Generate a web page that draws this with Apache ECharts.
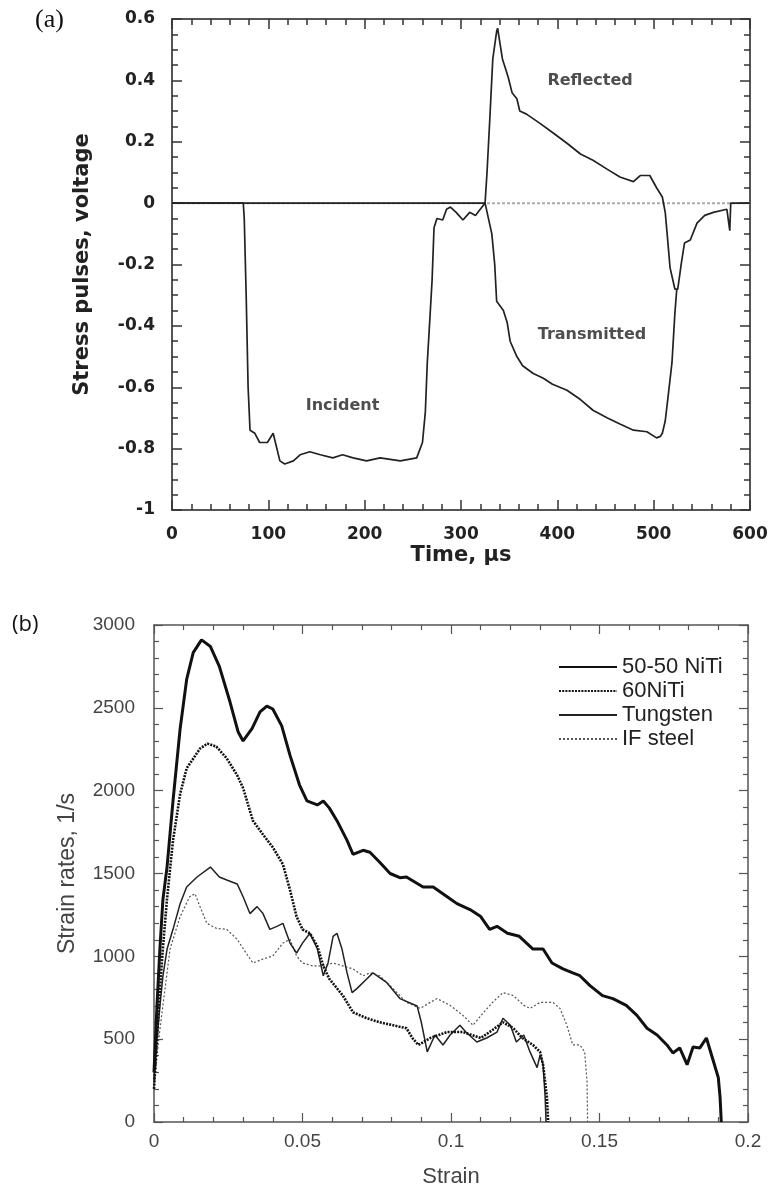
<!DOCTYPE html>
<html>
<head>
<meta charset="utf-8">
<script src="https://cdn.jsdelivr.net/npm/echarts@6/dist/echarts.min.js"></script>
<style>
html,body{margin:0;padding:0;background:#fff;}
#chart{width:773px;height:1189px;}
</style>
</head>
<body>
<div id="chart"></div>
<script>
// ---------- Panel (a): stress pulses ----------
var timeIncRef = [0,74,75,77,79,81,86,91,99,105,112,117,126,133,143,154,167,177,188,202,216,237,254,260,263,265,268,270,272,275,281,285,289,295,302,309,315,320,325,327,330,333,337,338,343,346,349,353,358,361,368,382,395,410,424,437,452,465,479,486,496,503,509,512,514,517,522,525,529,532,538,545,553,562,576,579,580,597,600];
var voltIncRef = [0,0,-0.05,-0.3,-0.6,-0.74,-0.75,-0.78,-0.78,-0.75,-0.84,-0.85,-0.84,-0.82,-0.81,-0.82,-0.83,-0.82,-0.83,-0.84,-0.83,-0.84,-0.83,-0.78,-0.68,-0.52,-0.36,-0.25,-0.08,-0.05,-0.055,-0.02,-0.013,-0.03,-0.055,-0.03,-0.04,-0.02,0,0.1,0.28,0.47,0.56,0.57,0.47,0.44,0.41,0.36,0.34,0.30,0.29,0.26,0.23,0.195,0.16,0.14,0.11,0.085,0.07,0.09,0.09,0.05,0.02,-0.03,-0.1,-0.21,-0.28,-0.28,-0.19,-0.13,-0.12,-0.065,-0.04,-0.03,-0.02,-0.09,0,0,0];
var timeTrans = [0,325,327,332,335,337,344,348,351,358,364,375,385,395,410,424,437,452,465,479,493,503,507,509,512,515,519,522,524];
var voltTrans = [0,0,0,-0.1,-0.2,-0.32,-0.35,-0.39,-0.45,-0.50,-0.53,-0.555,-0.57,-0.59,-0.61,-0.64,-0.675,-0.70,-0.72,-0.74,-0.745,-0.765,-0.76,-0.75,-0.71,-0.63,-0.52,-0.36,-0.28];
var timeZero = [0,600];
var voltZero = [0,0];
var pulseLabels = ['Reflected','Transmitted','Incident'];
var pulseLabelX = [434,436,177];
var pulseLabelY = [0.40,-0.43,-0.66];

// ---------- Panel (b): strain rates ----------
var seriesNames = ['50-50 NiTi','60NiTi','Tungsten','IF steel'];
var strain5050 = [0,0.001,0.002,0.003,0.0044,0.0064,0.0088,0.011,0.0132,0.016,0.019,0.022,0.0256,0.0283,0.030,0.033,0.0357,0.038,0.040,0.043,0.0458,0.049,0.0515,0.055,0.057,0.059,0.0616,0.065,0.067,0.0704,0.0727,0.076,0.0795,0.0828,0.085,0.0906,0.094,0.0987,0.102,0.1064,0.11,0.113,0.1155,0.119,0.123,0.1276,0.131,0.134,0.1377,0.141,0.1434,0.1468,0.151,0.1545,0.159,0.1626,0.166,0.1694,0.1727,0.1747,0.177,0.1795,0.1815,0.1838,0.186,0.188,0.19,0.1906,0.191];
var rate5050 = [300,700,1050,1342,1540,1938,2374,2672,2833,2910,2870,2750,2535,2356,2300,2374,2475,2510,2493,2391,2213,2034,1938,1914,1938,1896,1819,1700,1616,1640,1628,1568,1500,1475,1479,1419,1419,1360,1318,1282,1240,1163,1181,1139,1121,1044,1044,960,924,900,883,823,763,745,704,644,566,525,465,417,447,346,453,447,507,388,268,149,0];
var strain60 = [0,0.001,0.002,0.003,0.0044,0.0064,0.0088,0.011,0.0155,0.018,0.021,0.0245,0.028,0.030,0.0333,0.0367,0.040,0.0434,0.0458,0.048,0.050,0.0525,0.055,0.057,0.059,0.0636,0.067,0.0717,0.076,0.0805,0.085,0.087,0.089,0.093,0.0987,0.104,0.11,0.113,0.1175,0.121,0.124,0.1276,0.13,0.131,0.1323,0.1327];
var rate60 = [200,500,800,1050,1350,1700,1980,2135,2254,2284,2266,2195,2093,2016,1819,1735,1658,1556,1400,1240,1163,1139,1062,942,865,763,662,626,602,584,566,507,465,507,543,543,507,543,602,566,507,465,423,346,149,0];
var strainW = [0,0.001,0.002,0.003,0.0044,0.0064,0.0088,0.011,0.0145,0.019,0.022,0.0245,0.028,0.030,0.0323,0.0347,0.0367,0.039,0.0414,0.0434,0.0458,0.048,0.050,0.0525,0.055,0.057,0.0586,0.0603,0.0616,0.0633,0.065,0.0667,0.0683,0.0717,0.0737,0.0784,0.0828,0.0886,0.09,0.092,0.0946,0.0973,0.0997,0.103,0.105,0.1087,0.112,0.1155,0.1175,0.12,0.122,0.1245,0.1266,0.129,0.13,0.131,0.1317,0.132];
var rateW = [250,500,700,880,1044,1163,1318,1419,1479,1539,1479,1461,1437,1360,1258,1300,1258,1163,1181,1199,1080,1020,1080,1139,1044,883,960,1121,1139,1044,900,781,805,865,900,841,745,700,602,423,525,465,525,584,543,483,507,543,626,584,483,525,423,328,405,346,149,0];
var strainIF = [0,0.001,0.002,0.003,0.0054,0.0088,0.012,0.0138,0.0155,0.0178,0.021,0.0245,0.028,0.031,0.0333,0.0367,0.040,0.0434,0.0458,0.048,0.050,0.0535,0.057,0.0603,0.0636,0.067,0.0704,0.0727,0.076,0.0795,0.0828,0.085,0.0896,0.093,0.0953,0.0997,0.104,0.1074,0.111,0.114,0.1175,0.121,0.1245,0.1266,0.13,0.1343,0.1367,0.139,0.141,0.1434,0.145,0.1458,0.146];
var rateIF = [200,400,560,704,1044,1240,1360,1378,1300,1199,1169,1163,1103,1020,960,984,1002,1080,1103,1002,960,942,942,960,942,924,883,900,883,823,763,722,686,722,745,704,644,584,662,722,781,763,704,686,722,722,686,584,465,465,423,245,0];

function zip(xs, ys){ return xs.map(function(x,i){ return [x, ys[i]]; }); }

var fontA = 'DejaVu Sans';
var fontB = 'Liberation Sans, Arial, sans-serif';
function plain(v){ return String(v); }

function axisCommon(opts){
  return Object.assign({
    type:'value',
    splitLine:{show:false},
    axisLine:{show:true,onZero:false,lineStyle:{color:'#555',width:2}},
    axisTick:{show:true,inside:true,length:10,lineStyle:{color:'#333',width:1.5}},
    minorTick:{show:true,length:6,lineStyle:{color:'#333',width:1.5}}
  }, opts);
}

var option = {
  animation:false,
  backgroundColor:'#fff',
  grid:[
    {left:172, top:19, width:578, height:491},
    {left:154, top:625, width:594, height:503}
  ],
  xAxis:[
    axisCommon({gridIndex:0,min:0,max:600,interval:100,position:'bottom',
      minorTick:{show:true,splitNumber:5,length:6,lineStyle:{color:'#333',width:1.5}},
      axisLabel:{fontFamily:fontA,fontWeight:'bold',fontSize:17,color:'#222',margin:16,formatter:plain},
      name:'Time, μs',nameLocation:'middle',nameGap:35,
      nameTextStyle:{fontFamily:fontA,fontWeight:'bold',fontSize:21,color:'#222'}}),
    axisCommon({gridIndex:0,min:0,max:600,interval:100,position:'top',
      minorTick:{show:true,splitNumber:5,length:6,lineStyle:{color:'#333',width:1.5}},
      axisLabel:{show:false}}),
    axisCommon({gridIndex:1,min:0,max:0.2,interval:0.05,position:'bottom',
      axisLine:{show:true,onZero:false,lineStyle:{color:'#555',width:1.5}},
      axisTick:{show:true,inside:true,length:9,lineStyle:{color:'#555',width:1.2}},
      minorTick:{show:true,splitNumber:5,length:5,lineStyle:{color:'#555',width:1.2}},
      axisLabel:{fontFamily:fontB,fontSize:19,color:'#444',margin:10,formatter:plain},
      name:'Strain',nameLocation:'middle',nameGap:44,
      nameTextStyle:{fontFamily:fontB,fontSize:22,color:'#444'}}),
    axisCommon({gridIndex:1,min:0,max:0.2,interval:0.05,position:'top',
      axisLine:{show:true,onZero:false,lineStyle:{color:'#555',width:1.5}},
      axisTick:{show:true,inside:true,length:9,lineStyle:{color:'#555',width:1.2}},
      minorTick:{show:true,splitNumber:5,length:5,lineStyle:{color:'#555',width:1.2}},
      axisLabel:{show:false}})
  ],
  yAxis:[
    axisCommon({gridIndex:0,min:-1,max:0.6,interval:0.2,position:'left',
      minorTick:{show:true,splitNumber:4,length:6,lineStyle:{color:'#333',width:1.5}},
      axisLabel:{fontFamily:fontA,fontWeight:'bold',fontSize:17,color:'#222',margin:17,formatter:plain},
      name:'Stress pulses, voltage',nameLocation:'middle',nameGap:79,
      nameTextStyle:{fontFamily:fontA,fontWeight:'bold',fontSize:21,color:'#222'}}),
    axisCommon({gridIndex:0,min:-1,max:0.6,interval:0.2,position:'right',
      minorTick:{show:true,splitNumber:4,length:6,lineStyle:{color:'#333',width:1.5}},
      axisLabel:{show:false}}),
    axisCommon({gridIndex:1,min:0,max:3000,interval:500,position:'left',
      axisLine:{show:true,onZero:false,lineStyle:{color:'#555',width:1.5}},
      axisTick:{show:true,inside:true,length:9,lineStyle:{color:'#555',width:1.2}},
      minorTick:{show:true,splitNumber:5,length:5,lineStyle:{color:'#555',width:1.2}},
      axisLabel:{fontFamily:fontB,fontSize:19,color:'#444',margin:19,formatter:plain},
      name:'Strain rates, 1/s',nameLocation:'middle',nameGap:75,
      nameTextStyle:{fontFamily:fontB,fontSize:23,color:'#444'}}),
    axisCommon({gridIndex:1,min:0,max:3000,interval:500,position:'right',
      axisLine:{show:true,onZero:false,lineStyle:{color:'#555',width:1.5}},
      axisTick:{show:true,inside:true,length:9,lineStyle:{color:'#555',width:1.2}},
      minorTick:{show:true,splitNumber:5,length:5,lineStyle:{color:'#555',width:1.2}},
      axisLabel:{show:false}})
  ],
  legend:{
    data:seriesNames,
    orient:'vertical',
    left:553, top:651,
    itemWidth:58, itemHeight:12, itemGap:2,
    itemStyle:{opacity:0},
    textStyle:{fontFamily:fontB,fontSize:22,color:'#222',lineHeight:22},
    selectedMode:false
  },
  graphic:[
    {type:'text',left:35,top:7,style:{text:'(a)',fontFamily:'Liberation Serif, Times New Roman, serif',fontSize:26,fill:'#111'}},
    {type:'text',left:12,top:614,style:{text:'(b)',fontFamily:'Open Sans, Noto Sans, sans-serif',fontSize:22,fill:'#111'}}
  ],
  series:[
    {type:'line',name:'zero',xAxisIndex:0,yAxisIndex:0,data:zip(timeZero,voltZero),symbol:'none',
      lineStyle:{color:'#aaa',width:2,type:[3,2]},silent:true,z:1},
    {type:'line',name:'Transmitted',xAxisIndex:0,yAxisIndex:0,data:zip(timeTrans,voltTrans),symbol:'none',
      lineStyle:{color:'#222',width:1.7},silent:true,z:2},
    {type:'line',name:'IncRef',xAxisIndex:0,yAxisIndex:0,data:zip(timeIncRef,voltIncRef),symbol:'none',
      lineStyle:{color:'#222',width:1.7},silent:true,z:3},
    {type:'scatter',name:'labels',xAxisIndex:0,yAxisIndex:0,symbolSize:1,itemStyle:{color:'rgba(0,0,0,0)'},silent:true,
      data:pulseLabels.map(function(n,i){return {name:n,value:[pulseLabelX[i],pulseLabelY[i]]};}),
      label:{show:true,position:'inside',formatter:'{b}',fontFamily:fontA,fontWeight:'bold',fontSize:16,color:'#222'}},
    {type:'line',name:seriesNames[0],xAxisIndex:2,yAxisIndex:2,data:zip(strain5050,rate5050),symbol:'none',
      lineStyle:{color:'#111',width:3},itemStyle:{color:'#111',opacity:0},z:5},
    {type:'line',name:seriesNames[1],xAxisIndex:2,yAxisIndex:2,data:zip(strain60,rate60),symbol:'none',
      lineStyle:{color:'#111',width:2.6,type:[2,1.2]},itemStyle:{color:'#111',opacity:0},z:4},
    {type:'line',name:seriesNames[2],xAxisIndex:2,yAxisIndex:2,data:zip(strainW,rateW),symbol:'none',
      lineStyle:{color:'#222',width:1.5},itemStyle:{color:'#222',opacity:0},z:3},
    {type:'line',name:seriesNames[3],xAxisIndex:2,yAxisIndex:2,data:zip(strainIF,rateIF),symbol:'none',
      lineStyle:{color:'#555',width:1.2,type:[2,2]},itemStyle:{color:'#555',opacity:0},z:2}
  ]
};

var chart = echarts.init(document.getElementById('chart'), null, {renderer:'canvas'});
chart.setOption(option);
</script>
</body>
</html>
